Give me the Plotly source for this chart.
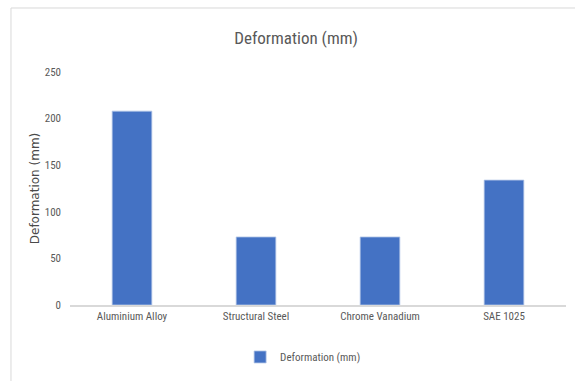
import plotly.graph_objects as go

materials = ["Aluminium Alloy", "Structural Steel", "Chrome Vanadium", "SAE 1025"]
deformation_mm = [208, 73, 73, 134]
y_ticks = [0, 50, 100, 150, 200, 250]

TEXT = "#595959"
FONT = "Liberation Sans Narrow, Arial Narrow, Roboto Condensed, sans-serif"

fig = go.Figure(
    go.Bar(
        x=materials,
        y=deformation_mm,
        name="Deformation (mm)",
        marker=dict(color="#4472C4", line=dict(color="#B4C7E7", width=0.8)),
        showlegend=True,
    )
)

fig.update_layout(
    width=575,
    height=381,
    margin=dict(l=70, r=9, t=72, b=76),
    paper_bgcolor="white",
    plot_bgcolor="white",
    bargap=0.68,
    font=dict(family=FONT, color=TEXT, size=11),
    title=dict(
        text="Deformation (mm)",
        x=0.515,
        xanchor="center",
        y=0.9,
        yanchor="middle",
        font=dict(family=FONT, size=17, color=TEXT),
    ),
    xaxis=dict(
        showgrid=False,
        showline=True,
        linecolor="#D9D9D9",
        linewidth=1.5,
        ticks="",
        tickfont=dict(size=11, color=TEXT),
    ),
    yaxis=dict(
        range=[0, 250],
        tickvals=y_ticks,
        showgrid=False,
        zeroline=False,
        showline=False,
        ticks="",
        ticklabelstandoff=8,
        tickfont=dict(size=11, color=TEXT),
        title=dict(
            text="Deformation (mm)",
            font=dict(family="DejaVu Sans, sans-serif", size=12, color="#4a4a4a"),
            standoff=2,
        ),
    ),
    legend=dict(
        orientation="h",
        x=0.47,
        xanchor="center",
        y=-0.223,
        yanchor="middle",
        font=dict(size=11, color=TEXT),
        itemwidth=30,
    ),
    shapes=[
        dict(
            type="rect",
            xref="paper",
            yref="paper",
            x0=-0.119,
            x1=1.03,
            y0=-0.35,
            y1=1.2747,
            line=dict(color="#D9D9D9", width=1),
            fillcolor="rgba(0,0,0,0)",
            layer="below",
        )
    ],
)

fig.write_html("out.html")
